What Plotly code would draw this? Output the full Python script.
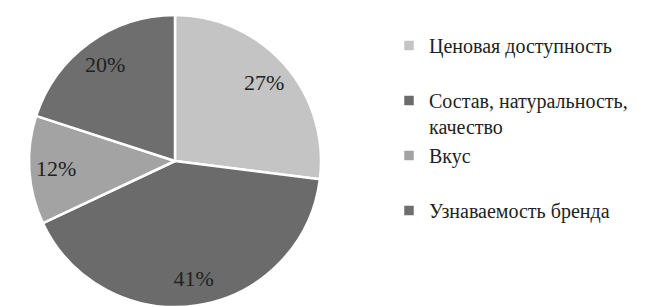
import plotly.graph_objects as go

labels = ["Ценовая доступность<br> ", "Состав, натуральность,<br>качество", "Вкус<br> ", "Узнаваемость бренда"]
values = [27, 41, 12, 20]
colors = ["#c4c4c4", "#6b6b6b", "#a3a3a3", "#6e6e6e"]

W, H = 668, 307
SERIF = "Liberation Serif, Times New Roman, DejaVu Serif, serif"
dom = dict(x=[29 / W, 321 / W], y=[0, 1])

fig = go.Figure()
fig.add_trace(go.Pie(
    labels=labels,
    values=values,
    sort=False,
    direction="clockwise",
    rotation=0,
    marker=dict(colors=colors, line=dict(color="white", width=2.5)),
    textinfo="none",
    domain=dom,
    hoverinfo="label+percent",
))
# transparent ring carrying the percentage labels near the outer edge
fig.add_trace(go.Pie(
    labels=labels,
    values=values,
    sort=False,
    direction="clockwise",
    rotation=0,
    hole=0.63,
    marker=dict(colors=["rgba(0,0,0,0)"] * 4, line=dict(width=0)),
    texttemplate="%{value}%",
    textposition="inside",
    insidetextorientation="horizontal",
    textfont=dict(family=SERIF, size=22, color="#222222"),
    domain=dom,
    showlegend=False,
    hoverinfo="skip",
))

fig.update_layout(
    width=W, height=H,
    margin=dict(l=0, r=0, t=15, b=0),
    paper_bgcolor="white",
    showlegend=True,
    uniformtext=dict(minsize=22, mode="show"),
    legend=dict(
        x=389 / W, y=0.962, xanchor="left", yanchor="top",
        font=dict(family=SERIF, size=20, color="#222222"),
        valign="top",
        itemwidth=30,
    ),
)

fig.write_html("out.html", config={"displayModeBar": False},
               post_script="document.body.style.margin='0';")
